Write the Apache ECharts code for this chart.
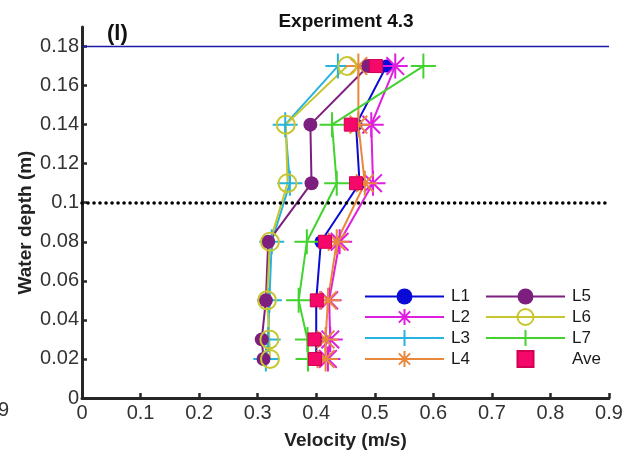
<!DOCTYPE html>
<html>
<head>
<meta charset="utf-8">
<script src="https://cdn.jsdelivr.net/npm/echarts@6/dist/echarts.min.js"></script>
<style>html,body{margin:0;padding:0;background:#fff;}#c{width:632px;height:459px;}</style>
</head>
<body>
<div id="c"></div>
<script>
// Depth levels (m)
const depths = [0.17, 0.14, 0.11, 0.08, 0.05, 0.03, 0.02];
// Velocities (m/s) at each depth
const L1 = [0.520, 0.468, 0.474, 0.408, 0.400, 0.400, 0.400];
const L2 = [0.535, 0.494, 0.497, 0.440, 0.422, 0.424, 0.420];
const L3 = [0.437, 0.347, 0.355, 0.324, 0.320, 0.318, 0.314];
const L4 = [0.472, 0.472, 0.483, 0.435, 0.420, 0.416, 0.416];
const L5 = [0.489, 0.390, 0.392, 0.318, 0.314, 0.307, 0.310];
const L6 = [0.453, 0.348, 0.351, 0.321, 0.316, 0.320, 0.321];
const L7 = [0.583, 0.427, 0.435, 0.384, 0.370, 0.385, 0.386];
const Ave = [0.502, 0.459, 0.468, 0.415, 0.401, 0.397, 0.398];
const waterSurface = 0.18;
const dottedLevel = 0.1;
// Tick values
const yTicks = [0, 0.02, 0.04, 0.06, 0.08, 0.1, 0.12, 0.14, 0.16, 0.18];

const pairs = (v) => v.map((x, i) => [x, depths[i]]);
const FONT = 'Liberation Sans, Arial, sans-serif';
const plusPath = 'path://M0,-10L0,10M-10,0L10,0';
const starPath = 'path://M0,-10L0,10M-10,0L10,0M-7.07,-7.07L7.07,7.07M-7.07,7.07L7.07,-7.07';

function lineSeries(name, vals, color, symbol, size, filled) {
  return {
    name, type: 'line', data: pairs(vals), symbol, symbolSize: size,
    lineStyle: { color, width: 2 },
    itemStyle: filled ? { color, borderWidth: 0 } : { color: 'rgba(0,0,0,0)', borderColor: color, borderWidth: 2 },
    emphasis: { disabled: true }
  };
}

const series = [
  lineSeries('L1', L1, '#0a0ad6', 'circle', 13, true),
  lineSeries('L2', L2, '#df1ee0', starPath, 25, false),
  lineSeries('L3', L3, '#26b3e0', plusPath, 25, false),
  lineSeries('L4', L4, '#e8883c', starPath, 25, false),
  lineSeries('L5', L5, '#7d1f7f', 'circle', 14, true),
  lineSeries('L6', L6, '#c8c62e', 'circle', 18, false),
  lineSeries('L7', L7, '#42d32e', plusPath, 25, false),
  {
    name: 'Ave', type: 'line', data: pairs(Ave), symbol: 'rect', symbolSize: 13,
    lineStyle: { width: 0, color: '#f5086a' },
    itemStyle: { color: '#f5086a', borderColor: '#d10052', borderWidth: 1 },
    emphasis: { disabled: true },
    markLine: {
      silent: true, symbol: ['none', 'none'], label: { show: false }, animation: false,
      data: [
        { yAxis: waterSurface, lineStyle: { color: '#1a1aa8', width: 1.3, type: 'solid' } },
        { yAxis: dottedLevel, lineStyle: { color: '#000', width: 3.6, type: [0.01, 6], cap: 'round' } }
      ]
    }
  }
];

const axisColor = '#262626';
const legendCommon = {
  orient: 'vertical', itemWidth: 79, itemHeight: 20, itemGap: 3,
  textStyle: { fontSize: 17, color: '#1a1a1a', fontFamily: FONT, padding: [0, 0, 0, 2] },
  selectedMode: false
};

const option = {
  animation: false,
  textStyle: { fontFamily: FONT },
  title: {
    text: 'Experiment 4.3', left: 341, top: 7, textAlign: 'center',
    textStyle: { fontSize: 19, fontWeight: 'bold', color: '#111', fontFamily: FONT }
  },
  grid: { left: 82, right: 23, top: 27, bottom: 61 },
  xAxis: {
    type: 'value', min: 0, max: 0.9, interval: 0.1,
    name: 'Velocity (m/s)', nameLocation: 'middle', nameGap: 33,
    nameTextStyle: { fontSize: 19, fontWeight: 'bold', color: '#222', fontFamily: FONT },
    axisLine: { show: true, lineStyle: { color: axisColor, width: 3 } },
    axisTick: { show: true, inside: true, length: 5, lineStyle: { color: axisColor, width: 2.5 } },
    axisLabel: { fontSize: 20, color: '#333', margin: 5, fontFamily: FONT },
    splitLine: { show: false }
  },
  yAxis: {
    type: 'value', min: 0, max: 0.19,
    name: 'Water depth (m)', nameLocation: 'middle', nameGap: 47, nameRotate: 90, nameMoveOverlap: false,
    nameTextStyle: { fontSize: 19, fontWeight: 'bold', color: '#222', fontFamily: FONT, padding: [0, 20, 0, 0] },
    axisLine: { show: true, lineStyle: { color: axisColor, width: 3 } },
    axisTick: { show: true, inside: true, length: 5, customValues: yTicks, lineStyle: { color: axisColor, width: 2.5 } },
    axisLabel: { fontSize: 20, color: '#333', margin: 3, customValues: yTicks, fontFamily: FONT },
    splitLine: { show: false }
  },
  legend: [
    Object.assign({ left: 359, top: 283, data: ['L1', 'L2', 'L3', 'L4'] }, legendCommon),
    Object.assign({ left: 480, top: 283, data: ['L5', 'L6', 'L7', 'Ave'] }, legendCommon)
  ],
  graphic: [
    { type: 'text', left: 107, top: 23, style: { text: '(l)', font: 'bold 22px ' + FONT, fill: '#111' } },
    { type: 'text', left: -2, top: 400, style: { text: '9', font: '20px ' + FONT, fill: '#333' } }
  ],
  series
};

const chart = echarts.init(document.getElementById('c'), null, { renderer: 'canvas' });
chart.setOption(option);
</script>
</body>
</html>
